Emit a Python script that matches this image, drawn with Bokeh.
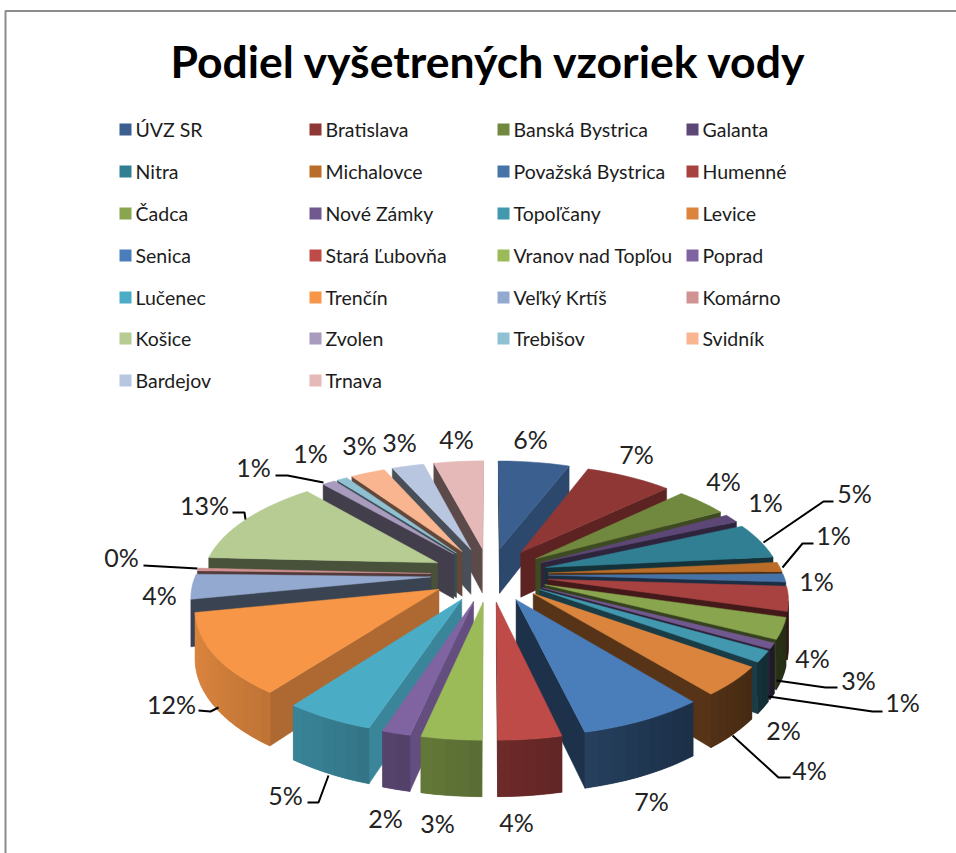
import math
from bokeh.plotting import figure
from bokeh.models import Range1d
from bokeh.core.properties import value
from bokeh.embed import file_html
from bokeh.resources import INLINE

TITLE = "Podiel vyšetrených vzoriek vody"
names = ["ÚVZ SR", "Bratislava", "Banská Bystrica", "Galanta", "Nitra", "Michalovce",
         "Považská Bystrica", "Humenné", "Čadca", "Nové Zámky", "Topoľčany", "Levice",
         "Senica", "Stará Ľubovňa", "Vranov nad Topľou", "Poprad", "Lučenec", "Trenčín",
         "Veľký Krtíš", "Komárno", "Košice", "Zvolen", "Trebišov", "Svidník", "Bardejov", "Trnava"]
shares = [5.75, 7.0, 4.2, 1.25, 5.2, 1.4, 1.2, 3.55, 3.05, 0.8, 1.6, 4.2, 7.2, 3.6, 3.4, 1.6,
          5.1, 11.7, 3.6, 0.4, 12.9, 1.05, 0.85, 2.8, 2.6, 4.0]
colors = ["#3B5F8F", "#8E3735", "#71893F", "#5C4776", "#317F93", "#B96D29", "#4674A9", "#A84240",
          "#89A54E", "#71588F", "#4198AF", "#DB843D", "#4A7EBB", "#BE4B48", "#9BBB59", "#8064A2",
          "#4BACC6", "#F79646", "#93A9CF", "#D19392", "#B6CC92", "#A99BBD", "#8FC1D3", "#F9B590",
          "#B8C6E0", "#E5B9B7"]

# layout tables (pixels on the page)
label_pos = [(530, 438), (636, 453), (723, 480), (765, 501), (854, 492), (833, 534), (816, 580),
             (812, 657), (858, 679), (902, 701), (783, 729), (809, 769), (651, 800), (516, 821),
             (437, 822), (385, 817), (285, 794), (171, 703), (159, 594), (121, 556), (204, 504),
             (253, 466), (310, 452), (359, 444), (399, 441), (456, 438)]
leaders = [[(763, 542), (823, 501), (833, 501)], [(782, 567), (802, 543), (813, 543)],
           [(776, 680), (825, 687), (837, 687)], [(768, 696), (872, 711), (882, 711)],
           [(732, 735), (778, 777), (790, 777)], [(328, 775), (318, 802), (307, 802)],
           [(218, 707), (210, 711), (198, 710)], [(245, 519), (244, 512), (232, 512)],
           [(197, 568), (143, 565)], [(323, 482), (287, 475), (275, 475)]]
legend_x = [119, 309, 497, 686]
legend_y = [129, 171, 213, 255, 297, 338, 380]

# projection of the pie
CX, CY, A, B, K, EXPLODE, DEPTH = 489.0, 574.0, 235.0, 108.0, 0.149, 0.25, 46.0


def project(x, y, z=0.0):
    s = 1.0 / (1.0 - K * y)
    return CX + A * x * s, CY + B * y * s + DEPTH * z * s


def shade(c, f):
    r, g, b = int(c[1:3], 16), int(c[3:5], 16), int(c[5:7], 16)
    return "#%02x%02x%02x" % (int(r * f), int(g * f), int(b * f))


total = sum(shares)
slices = []
cum = 0.0
for i, v in enumerate(shares):
    t0 = cum / total * 2 * math.pi
    cum += v
    t1 = cum / total * 2 * math.pi
    slices.append((i, t0, t1))

xs, ys, fills, edge = [], [], [], []


def add(poly, fill, outline=True):
    xs.append([a[0] for a in poly])
    ys.append([a[1] for a in poly])
    fills.append(fill)
    edge.append(fill if outline else None)


for i, t0, t1 in sorted(slices, key=lambda q: -math.cos((q[1] + q[2]) / 2)):
    mid = (t0 + t1) / 2
    ox, oy = EXPLODE * math.sin(mid), -EXPLODE * math.cos(mid)
    n = max(2, int((t1 - t0) / math.radians(3)) + 1)
    ang = [t0 + (t1 - t0) * j / n for j in range(n + 1)]
    ring = [(ox, oy)] + [(ox + math.sin(a), oy - math.cos(a)) for a in ang]
    normals = [-math.cos(t0)] + [math.sin((ang[j] + ang[j + 1]) / 2) for j in range(n)] + [math.cos(t1)]
    kinds = ["cut"] + ["rim"] * n + ["cut"]
    m = len(ring)
    rim_quads = []
    for e in range(m):
        a, b = ring[e], ring[(e + 1) % m]
        quad = [project(a[0], a[1]), project(b[0], b[1]), project(b[0], b[1], 1), project(a[0], a[1], 1)]
        area = sum(quad[k][0] * quad[(k + 1) % 4][1] - quad[(k + 1) % 4][0] * quad[k][1] for k in range(4))
        if area >= 0:
            continue
        nx = normals[e]
        if kinds[e] == "cut":
            add(quad, shade(colors[i], 0.40 + 0.5 * max(0.0, nx - 0.2)))
        else:
            rim_quads.append((quad, 0.58 - 0.32 * nx))
    if rim_quads:
        # one continuous band under the strips, so that no seams show
        upper = [q[0][0] for q in rim_quads] + [rim_quads[-1][0][1]]
        lower = [q[0][2] for q in reversed(rim_quads)] + [rim_quads[0][0][3]]
        add(upper + lower, shade(colors[i], sum(q[1] for q in rim_quads) / len(rim_quads)))
        for quad, f in rim_quads:
            add(quad, shade(colors[i], f), outline=False)
    add([project(a[0], a[1]) for a in ring], colors[i])

p = figure(width=956, height=853, x_range=Range1d(0, 956), y_range=Range1d(853, 0),
           toolbar_location=None, output_backend="svg", min_border=0,
           background_fill_color="white", border_fill_color="white", outline_line_color=None)
p.styles = {"position": "absolute", "left": "0px", "top": "0px"}
p.axis.visible = False
p.grid.visible = False

# frame of the pasted picture
p.line([5, 5, 956], [853, 10.5, 10.5], line_color="#8c8c8c", line_width=2)

p.text([488.5], [60], text=[TITLE], text_font=value("Lato"), text_font_style="bold",
       text_font_size="44.5px", text_align="center", text_baseline="middle", text_color="black")

lx0, lx1, ly0, ly1, tx, ty = [], [], [], [], [], []
for i, nm in enumerate(names):
    c, r = i % 4, i // 4
    lx0.append(legend_x[c])
    lx1.append(legend_x[c] + 12)
    ly0.append(legend_y[r] - 6)
    ly1.append(legend_y[r] + 6)
    tx.append(legend_x[c] + 16)
    ty.append(legend_y[r])
p.quad(left=lx0, right=lx1, top=ly0, bottom=ly1, fill_color=colors, line_color=None)
p.text(tx, ty, text=names, text_font=value("Lato"), text_font_size="19.5px",
       text_align="left", text_baseline="middle", text_color="#1c1c1c")

p.patches(xs, ys, fill_color=fills, line_color=edge, line_width=0.5)

p.multi_line([[a[0] for a in l] for l in leaders], [[a[1] for a in l] for l in leaders],
             line_color="black", line_width=2)

labels = ["%d%%" % round(v / total * 100) for v in shares]
p.text([a[0] for a in label_pos], [a[1] for a in label_pos], text=labels, text_font=value("Lato"),
       text_font_size="25px", text_align="center", text_baseline="middle", text_color="#222222")

open("out.html", "w").write(file_html(p, INLINE))
